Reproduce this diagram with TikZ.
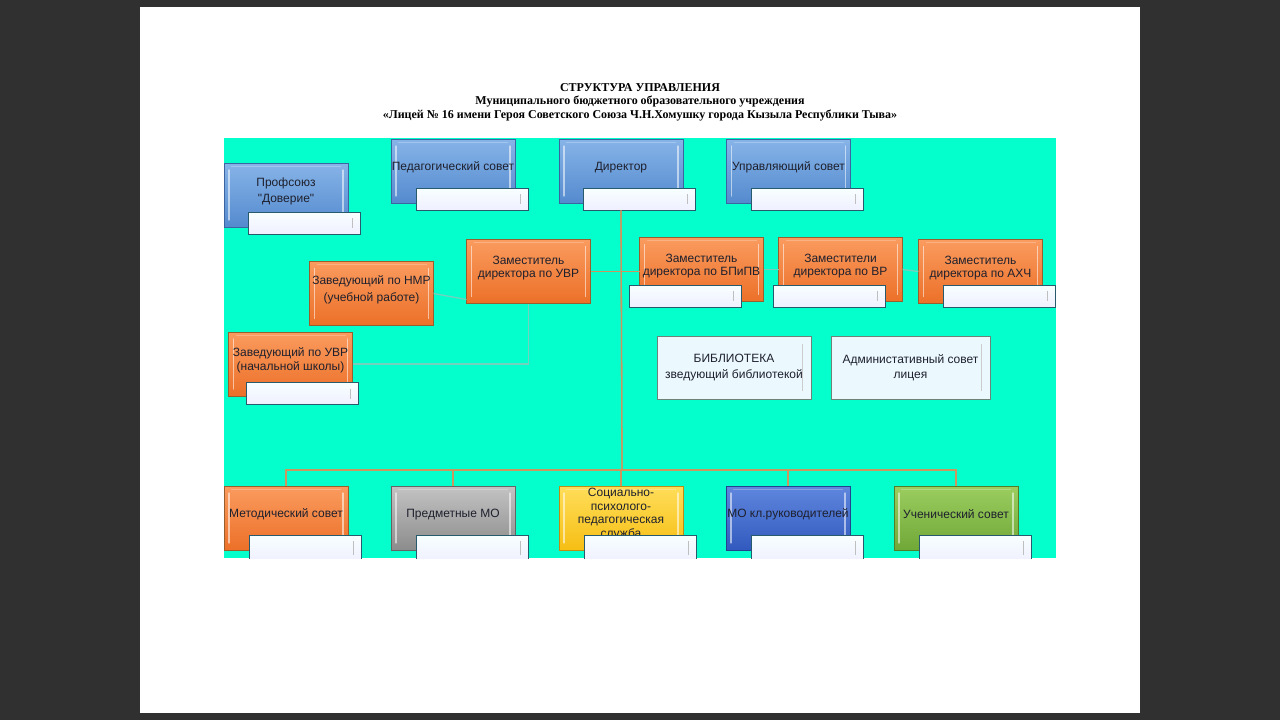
\documentclass[tikz,border=0pt]{standalone}
\usepackage{fontspec}
\newfontfamily\arialf{Liberation Sans}
\newfontfamily\timesf{Liberation Serif}
\definecolor{bgdark}{RGB}{48,48,48}
\definecolor{cyanbg}{RGB}{4,255,204}
\definecolor{connc}{RGB}{205,150,95}
\definecolor{lightc}{RGB}{115,210,190}
\definecolor{blueT}{RGB}{135,180,232}
\definecolor{blueB}{RGB}{84,138,206}
\definecolor{blueD}{RGB}{60,100,160}
\definecolor{orT}{RGB}{250,155,95}
\definecolor{orB}{RGB}{236,112,40}
\definecolor{orD}{RGB}{150,95,45}
\definecolor{grT}{RGB}{195,195,195}
\definecolor{grB}{RGB}{140,140,140}
\definecolor{grD}{RGB}{100,100,100}
\definecolor{yeT}{RGB}{255,222,90}
\definecolor{yeB}{RGB}{246,190,20}
\definecolor{yeD}{RGB}{190,140,20}
\definecolor{mbT}{RGB}{95,135,222}
\definecolor{mbB}{RGB}{50,90,190}
\definecolor{mbD}{RGB}{35,65,140}
\definecolor{gnT}{RGB}{155,205,95}
\definecolor{gnB}{RGB}{112,168,56}
\definecolor{gnD}{RGB}{80,125,40}
\definecolor{subD}{RGB}{40,90,110}
\definecolor{libD}{RGB}{110,130,120}
\definecolor{txt}{RGB}{30,32,45}
\begin{document}
\begin{tikzpicture}[x=1pt,y=-1pt,
  title/.style={font=\timesf\bfseries\fontsize{12}{14}\selectfont, text=black, inner sep=0},
  bevel/.style={path picture={
    \draw[white,opacity=0.55,line width=1.3pt,line cap=round] ([xshift=5pt,yshift=-7pt]path picture bounding box.north west) -- ([xshift=5pt,yshift=7pt]path picture bounding box.south west);
    \draw[white,opacity=0.55,line width=1.3pt,line cap=round] ([xshift=-5pt,yshift=-7pt]path picture bounding box.north east) -- ([xshift=-5pt,yshift=7pt]path picture bounding box.south east);
    \draw[white,opacity=0.25,line width=1pt] ([xshift=7pt,yshift=-3pt]path picture bounding box.north west) -- ([xshift=-7pt,yshift=-3pt]path picture bounding box.north east);
  }},
  cbox/.style n args={3}{draw=#3, line width=0.7pt, top color=#1, bottom color=#2, bevel,
    minimum width=124pt, minimum height=64pt, inner sep=0, outer sep=0},
  bluebox/.style={cbox={blueT}{blueB}{blueD}},
  orbox/.style={cbox={orT}{orB}{orD}},
  graybox/.style={cbox={grT}{grB}{grD}},
  yelbox/.style={cbox={yeT}{yeB}{yeD}},
  mobox/.style={cbox={mbT}{mbB}{mbD}},
  grnbox/.style={cbox={gnT}{gnB}{gnD}},
  lbl/.style={font=\arialf\fontsize{12}{13.5}\selectfont, text=txt, align=center, inner sep=0, yshift=3.5pt},
  subbox/.style={draw=subD, line width=0.8pt, top color=white!97!cyan, bottom color=blue!6!white,
    minimum width=112pt, minimum height=22pt, inner sep=0, outer sep=0,
    path picture={\draw[gray!50,line width=0.8pt] ([xshift=-8pt,yshift=-6pt]path picture bounding box.north east) -- ([xshift=-8pt,yshift=6pt]path picture bounding box.south east);}},
  libbox/.style={draw=libD, line width=1pt, fill=cyan!8!white, inner sep=0, outer sep=0,
    minimum height=63pt, font=\arialf\fontsize{12}{15.5}\selectfont, text=txt, align=center,
    path picture={\draw[gray!40,line width=1pt] ([xshift=-9pt,yshift=-8pt]path picture bounding box.north east) -- ([xshift=-9pt,yshift=8pt]path picture bounding box.south east);}},
  conn/.style={draw=connc, line width=1.3pt},
  lconn/.style={draw=lightc, line width=1.3pt}
]
\useasboundingbox (0,0) rectangle (1280,720);
\fill[bgdark] (0,0) rectangle (1280,720);
\fill[white] (140,7) rectangle (1140,713);
% title
\node[title] (t1) at (640,88) {СТРУКТУРА УПРАВЛЕНИЯ};
\node[title] (t2) at (640,101.5) {Муниципального бюджетного образовательного учреждения};
\node[title] (t3) at (640,115) {«Лицей № 16 имени Героя Советского Союза Ч.Н.Хомушку города Кызыла Республики Тыва»};
\begin{scope}
\clip (224,138) rectangle (1056,558);
\fill[cyanbg] (224,138) rectangle (1056,558);
\coordinate (bus) at (622,470);
% top row
\node[bluebox, label={[lbl]center:{Профсоюз\\[3pt]"Доверие"}}] (prof) at (286,195) {};
\node[bluebox, label={[lbl]center:{Педагогический совет}}] (ped) at (453,171) {};
\node[bluebox, label={[lbl]center:{Директор}}] (dir) at (621,171) {};
\node[bluebox, label={[lbl]center:{Управляющий совет}}] (upr) at (788.5,171) {};
% deputies
\node[orbox, label={[lbl]center:{Заместитель\\директора по УВР}}] (zuvr) at (528.5,271.5) {};
\node[orbox, label={[lbl]center:{Заведующий по НМР\\[3pt](учебной работе)}}] (nmr) at (371.5,293.5) {};
\node[orbox, label={[lbl]center:{Заведующий по УВР\\(начальной школы)}}] (nach) at (290.5,364) {};
\node[orbox, label={[lbl]center:{Заместитель\\директора по БПиПВ}}] (bpv) at (701.5,269.5) {};
\node[orbox, label={[lbl]center:{Заместители\\директора по ВР}}] (vr) at (840.5,269.5) {};
\node[orbox, label={[lbl]center:{Заместитель\\директора по АХЧ}}] (axc) at (980.5,271.5) {};
% connectors
\draw[conn] (dir.south) -- (bus);
\draw[conn] (zuvr.east) -- (zuvr.east -| bpv.west);
\draw[lconn] (nmr.east) -- ([yshift=4pt]zuvr.south west);
\draw[lconn] (zuvr.south) |- (nach.east);
\draw[lconn] (bpv.east) -- (vr.west);
\draw[lconn] (vr.east) -- (axc.west);
% bottom row
\node[orbox, label={[lbl]center:{Методический совет}}] (met) at (286,518) {};
\node[graybox, label={[lbl]center:{Предметные МО}}] (pred) at (453,518) {};
\node[yelbox, label={[lbl,yshift=0.5pt]center:{Социально-\\психолого-\\педагогическая\\служба}}] (soc) at (621,518) {};
\node[mobox, label={[lbl]center:{МО кл.руководителей}}] (mo) at (788,518) {};
\node[grnbox, label={[lbl]center:{Ученический совет}}] (uch) at (956,518) {};
\draw[conn] (met.north) -- (met.north |- bus) -- (uch.north |- bus) -- (uch.north);
\draw[conn] (pred.north) -- (pred.north |- bus);
\draw[conn] (soc.north) -- (soc.north |- bus);
\draw[conn] (mo.north) -- (mo.north |- bus);
% sub boxes
\node[subbox] (profS) at (304,223) {};
\node[subbox] (pedS) at (472,199) {};
\node[subbox] (dirS) at (639,199) {};
\node[subbox] (uprS) at (807,199) {};
\node[subbox] (nachS) at (302,393.5) {};
\node[subbox] (bpvS) at (685,296) {};
\node[subbox] (vrS) at (829,296) {};
\node[subbox] (axcS) at (999,296) {};
\node[subbox, minimum height=26pt] (metS) at (305,548) {};
\node[subbox, minimum height=26pt] (predS) at (472,548) {};
\node[subbox, minimum height=26pt] (socS) at (640,548) {};
\node[subbox, minimum height=26pt] (moS) at (807.5,548) {};
\node[subbox, minimum height=26pt] (uchS) at (975,548) {};
\draw[conn] (dir.south |- dirS.south) -- (bus);
% library
\node[libbox, minimum width=154pt] (lib) at (734,367.5) {БИБЛИОТЕКА\\зведующий библиотекой};
\node[libbox, minimum width=159pt] (adm) at (910.5,367.5) {Администативный совет\\лицея};
\end{scope}
\end{tikzpicture}
\end{document}
